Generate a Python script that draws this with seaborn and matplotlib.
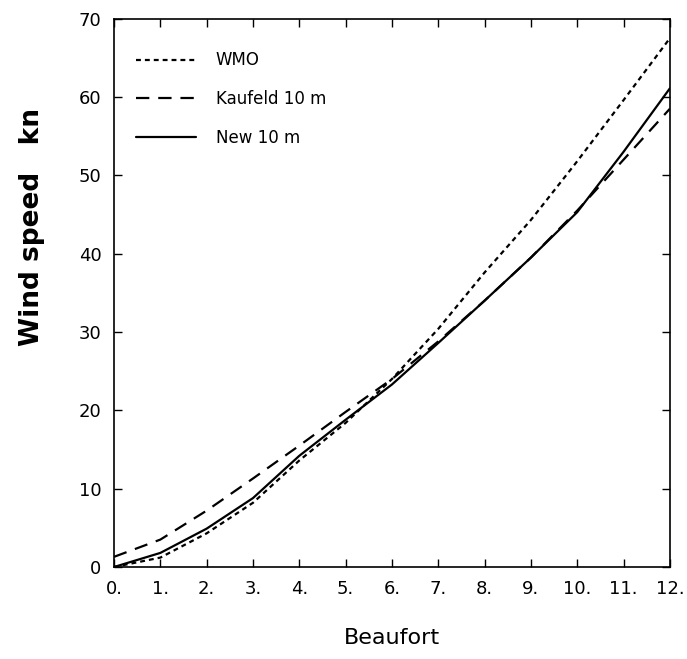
import matplotlib
matplotlib.use("Agg")
import matplotlib.pyplot as plt
import numpy as np
import pandas as pd
import seaborn as sns

# Beaufort numbers and equivalent wind speeds (kn)
beaufort = [0, 1, 2, 3, 4, 5, 6, 7, 8, 9, 10, 11, 12]
wmo = [0, 1.2, 4.3, 8.2, 13.6, 18.4, 24.0, 30.4, 37.6, 44.3, 51.8, 59.6, 67.5]
kaufeld = [1.3, 3.5, 7.2, 11.3, 15.5, 19.8, 24.0, 28.8, 34.0, 39.5, 45.5, 52.0, 58.5]
new10 = [0, 1.8, 4.9, 8.8, 14.2, 18.8, 23.3, 28.6, 34.0, 39.5, 45.3, 53.0, 61.1]
labels = ["WMO", "Kaufeld 10 m", "New 10 m"]

sns.set_style("ticks")
plt.rcParams["font.family"] = ["DejaVu Sans"]
plt.rcParams["xtick.direction"] = "in"
plt.rcParams["ytick.direction"] = "in"
plt.rcParams["text.color"] = "black"
plt.rcParams["axes.labelcolor"] = "black"
plt.rcParams["xtick.color"] = "black"
plt.rcParams["ytick.color"] = "black"
plt.rcParams["axes.edgecolor"] = "black"

df = pd.DataFrame({
    "Beaufort": beaufort * 3,
    "speed": wmo + kaufeld + new10,
    "series": [labels[0]] * 13 + [labels[1]] * 13 + [labels[2]] * 13,
})

fig = plt.figure(figsize=(6.87, 6.59), dpi=100)
ax = fig.add_axes([0.166, 0.1396, 0.809, 0.832])

sns.lineplot(data=df, x="Beaufort", y="speed", style="series",
             dashes={labels[0]: (2.2, 1.8), labels[1]: (6, 4), labels[2]: ""},
             color="black", linewidth=1.6, ax=ax, legend=False)

ax.set_xlim(0, 12)
ax.set_ylim(0, 70)
ax.set_xticks(beaufort)
ax.set_xticklabels([f"{b}." for b in beaufort])
ax.set_yticks(np.arange(0, 71, 10))
ax.tick_params(axis="both", labelsize=13, length=6, width=1,
               top=True, right=True, pad=9)
for s in ax.spines.values():
    s.set_linewidth(1.2)

ax.set_xlabel("Beaufort", fontsize=16, labelpad=22)
ax.set_ylabel("Wind speed   kn", fontsize=19, fontweight="bold")
ax.yaxis.set_label_coords(-0.125, 0.62)

handles = ax.get_lines()[:3]
ax.legend(handles, labels, loc="upper left", frameon=False, fontsize=12,
          handlelength=3.6, labelspacing=1.25, handletextpad=1.2,
          bbox_to_anchor=(0.0, 0.98), borderaxespad=0.9)

fig.savefig("out.png", dpi=100)
